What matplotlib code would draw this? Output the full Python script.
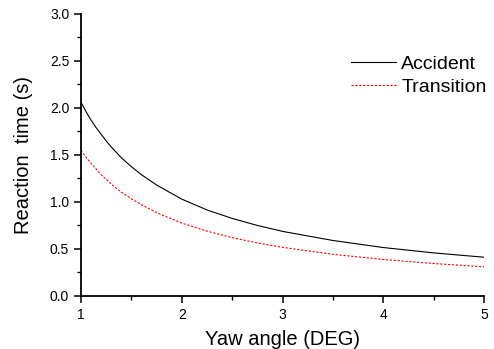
import numpy as np
import matplotlib.pyplot as plt
from matplotlib.ticker import MultipleLocator

plt.rcParams['font.family'] = ['Liberation Sans', 'DejaVu Sans']

# values
yaw_angle = [1.0, 1.05, 1.1, 1.15, 1.2, 1.25, 1.3, 1.4, 1.5, 1.6, 1.75, 2.0, 2.25, 2.5, 2.75, 3.0, 3.5, 4.0, 4.5, 5.0]
accident = [2.06, 1.96, 1.87, 1.79, 1.72, 1.65, 1.585, 1.47, 1.375, 1.29, 1.18, 1.03, 0.915, 0.825, 0.75, 0.687, 0.59, 0.515, 0.458, 0.412]
transition = [1.55, 1.475, 1.41, 1.35, 1.29, 1.24, 1.19, 1.105, 1.033, 0.97, 0.886, 0.775, 0.69, 0.62, 0.564, 0.517, 0.443, 0.388, 0.345, 0.31]

fig = plt.figure(figsize=(4.94, 3.49), dpi=100)
ax = fig.add_axes([0.164, 0.152, 0.816, 0.808])

ax.plot(yaw_angle, accident, color='black', lw=0.8, label='Accident')
ax.plot(yaw_angle, transition, color='red', lw=0.8, linestyle=(0, (2, 1.5)), label='Transition')

ax.set_xlim(1, 5)
ax.set_ylim(0, 3.0)
ax.xaxis.set_major_locator(MultipleLocator(1))
ax.xaxis.set_minor_locator(MultipleLocator(0.5))
ax.yaxis.set_major_locator(MultipleLocator(0.5))
ax.yaxis.set_minor_locator(MultipleLocator(0.25))
ax.set_yticklabels([f"{v:.1f}" for v in ax.get_yticks()])

for s in ['top', 'right']:
    ax.spines[s].set_visible(False)
for s in ['left', 'bottom']:
    ax.spines[s].set_linewidth(1.3)

ax.tick_params(which='major', direction='out', length=5, width=1.1, labelsize=10)
ax.tick_params(which='minor', direction='out', length=3, width=1.0)

ax.set_xlabel('Yaw angle (DEG)', fontsize=14.5, labelpad=6)
ax.set_ylabel('Reaction  time (s)', fontsize=14.5, labelpad=12)

ax.legend(loc='upper right', bbox_to_anchor=(1.05, 0.915), frameon=False, fontsize=14,
          handlelength=2.3, handletextpad=0.3, labelspacing=0.25)

fig.savefig('out.png', dpi=100)
